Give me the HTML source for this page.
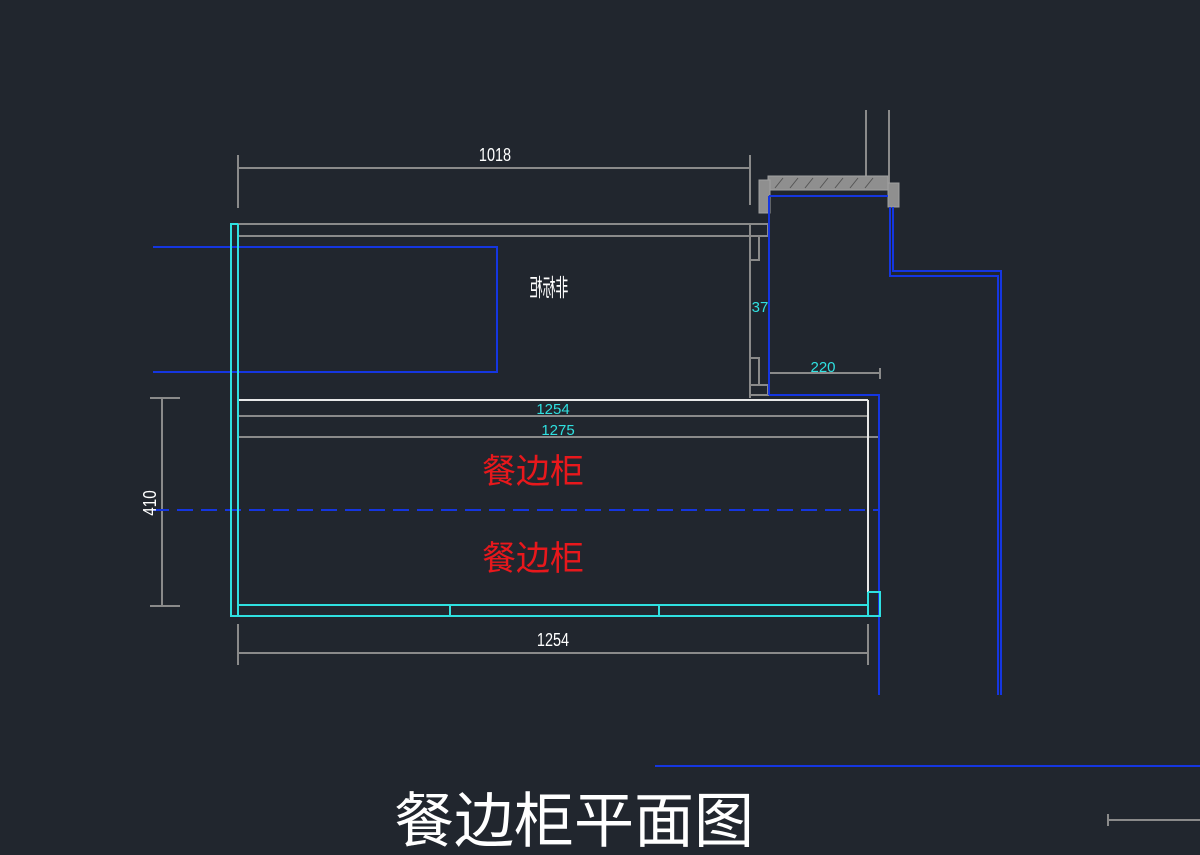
<!DOCTYPE html>
<html><head><meta charset="utf-8"><style>
html,body{margin:0;padding:0;background:#21262e;}
svg{display:block}
text{font-family:"Liberation Sans","Noto Sans CJK SC",sans-serif;}
</style></head><body>
<svg width="1200" height="855" viewBox="0 0 1200 855" xmlns="http://www.w3.org/2000/svg">
<rect width="1200" height="855" fill="#21262e"/>
<g stroke="#8a8a8a" stroke-width="2" fill="none">
<line x1="238" y1="168" x2="750" y2="168"/>
<line x1="238" y1="155" x2="238" y2="208"/>
<line x1="750" y1="155" x2="750" y2="205"/>
<line x1="238" y1="224" x2="768" y2="224"/>
<line x1="238" y1="236" x2="768" y2="236"/>
<line x1="750" y1="224" x2="750" y2="398"/>
<rect x="750" y="236" width="9" height="24"/>
<rect x="750" y="358" width="9" height="27"/>
<rect x="750" y="385" width="18" height="10"/>
<line x1="768" y1="224" x2="768" y2="236"/>
<line x1="866" y1="110" x2="866" y2="180"/>
<line x1="889" y1="110" x2="889" y2="183"/>
<line x1="238" y1="416" x2="868" y2="416"/>
<line x1="238" y1="437" x2="879" y2="437"/>
<line x1="879" y1="428" x2="879" y2="442"/>
<line x1="770" y1="373" x2="880" y2="373"/>
<line x1="880" y1="368" x2="880" y2="379"/>
<line x1="162" y1="398" x2="162" y2="606"/>
<line x1="150" y1="398" x2="180" y2="398"/>
<line x1="150" y1="606" x2="180" y2="606"/>
<line x1="238" y1="653" x2="868" y2="653"/>
<line x1="238" y1="624" x2="238" y2="665"/>
<line x1="868" y1="624" x2="868" y2="665"/>
<line x1="1108" y1="820" x2="1200" y2="820"/>
<line x1="1108" y1="814" x2="1108" y2="826"/>
</g>
<g fill="#8f8f8f" stroke="#a0a0a0" stroke-width="1">
<rect x="768" y="176" width="120" height="14"/>
<rect x="759" y="180" width="11" height="33"/>
<rect x="888" y="183" width="11" height="24"/>
</g>
<g stroke="#555" stroke-width="1">
<path d="M775 188 l8 -10 M790 188 l8 -10 M805 188 l8 -10 M820 188 l8 -10 M835 188 l8 -10 M850 188 l8 -10 M865 188 l8 -10"/>
</g>
<g stroke="#1536e0" stroke-width="2" fill="none">
<polyline points="153,247 497,247 497,372 153,372"/>
<line x1="769" y1="196" x2="888" y2="196"/>
<line x1="769" y1="196" x2="769" y2="395"/>
<polyline points="890,207 890,276 998,276 998,695"/>
<polyline points="893,207 893,271 1001,271 1001,695"/>
<polyline points="769,395 879,395 879,695"/>
<line x1="655" y1="766" x2="1200" y2="766"/>
<line x1="153" y1="510" x2="880" y2="510" stroke-dasharray="16,8"/>
</g>
<g stroke="#e8e8e8" stroke-width="2" fill="none">
<line x1="238" y1="400" x2="868" y2="400"/>
<line x1="868" y1="400" x2="868" y2="605"/>
</g>
<g stroke="#2fe0e0" stroke-width="2" fill="none">
<polyline points="238,224 231,224 231,616 880,616 880,592 868,592"/>
<line x1="238" y1="224" x2="238" y2="616"/>
<line x1="238" y1="605" x2="868" y2="605"/>
<line x1="450" y1="605" x2="450" y2="616"/>
<line x1="659" y1="605" x2="659" y2="616"/>
<line x1="868" y1="592" x2="868" y2="616"/>
</g>
<g fill="#ffffff" font-size="17" text-anchor="middle">
<text transform="translate(495,161) scale(0.85,1.1)">1018</text>
<text transform="translate(553,646) scale(0.85,1.1)">1254</text>
<text transform="translate(156,503) rotate(-90) scale(0.9,1.1)">410</text>
<text transform="translate(549,296) scale(-0.65,1.2)" font-size="20">非标柜</text>
</g>
<g fill="#2fe0e0" font-size="15" text-anchor="middle">
<text x="553" y="414">1254</text>
<text x="558" y="435">1275</text>
<text x="760" y="312">37</text>
<text x="823" y="372">220</text>
</g>
<g fill="#e8181c" font-size="34" text-anchor="middle">
<text x="533" y="483">餐边柜</text>
<text x="533" y="570">餐边柜</text>
</g>
<text x="574" y="842" fill="#ffffff" font-size="60" text-anchor="middle" font-family="'Noto Serif CJK SC','Noto Sans CJK SC',serif">餐边柜平面图</text>
</svg>
</body></html>
